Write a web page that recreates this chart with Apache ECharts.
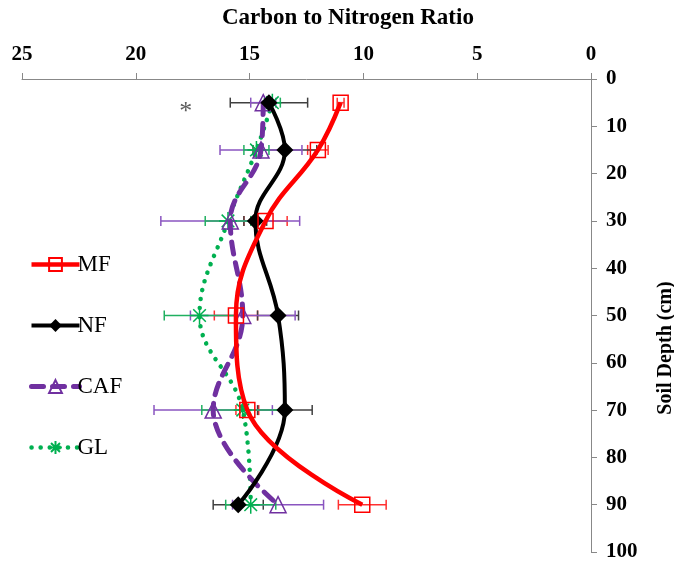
<!DOCTYPE html>
<html><head><meta charset="utf-8">
<script src="https://cdn.jsdelivr.net/npm/echarts@6/dist/echarts.min.js"></script>
<style>html,body{margin:0;padding:0;background:#fff}#c{width:674px;height:566px}</style>
</head><body><div id="c"></div>
<script>
const depths = [5, 15, 30, 50, 70, 90];
const mfValues = [11.0, 12.0, 14.3, 15.6, 15.1, 10.05];
const mfErrors = [0.15, 0.45, 0.95, 0.95, 0.5, 1.05];
const nfValues = [14.15, 13.45, 14.75, 13.75, 13.45, 15.5];
const nfErrors = [1.7, 1.4, 0.5, 0.9, 1.2, 1.1];
const cafValues = [14.4, 14.5, 15.85, 15.3, 16.6, 13.75];
const cafErrors = [0.55, 1.8, 3.05, 2.3, 2.6, 2.0];
const glValues = [14.0, 14.7, 15.95, 17.2, 15.3, 14.95];
const glErrors = [0.35, 0.55, 1.0, 1.55, 1.8, 1.1];
const seriesNames = ['MF', 'NF', 'CAF', 'GL'];
const xTicks = [0, 5, 10, 15, 20, 25];
const yTicks = [0, 10, 20, 30, 40, 50, 60, 70, 80, 90, 100];
const asteriskPoint = [17.8, 6.0];

const FONT = '"Liberation Serif", "Times New Roman", serif';
const colors = {MF: '#FF0000', NF: '#000000', CAF: '#7030A0', GL: '#00B050'};
const errColors = {MF: '#FF3030', NF: '#404040', CAF: '#8A55C0', GL: '#20B060'};

function pairs(vals) { return vals.map((v, i) => [v, depths[i]]); }
function errData(vals, errs) { return vals.map((v, i) => [v, depths[i], errs[i]]); }

function errSeries(name, vals, errs) {
  return {
    type: 'custom', name: name + ' err', z: 1, silent: true,
    data: errData(vals, errs),
    renderItem: function (params, api) {
      const x = api.value(0), y = api.value(1), e = api.value(2);
      const a = api.coord([x - e, y]), b = api.coord([x + e, y]);
      const h = 5;
      const style = {stroke: errColors[name], lineWidth: 1.5};
      return {type: 'group', children: [
        {type: 'line', shape: {x1: a[0], y1: a[1], x2: b[0], y2: b[1]}, style: style},
        {type: 'line', shape: {x1: a[0], y1: a[1] - h, x2: a[0], y2: a[1] + h}, style: style},
        {type: 'line', shape: {x1: b[0], y1: b[1] - h, x2: b[0], y2: b[1] + h}, style: style}
      ]};
    }
  };
}

const asteriskPath = 'path://M0,-10L0,10M-10,0L10,0M-7,-7L7,7M-7,7L7,-7';

const chart = echarts.init(document.getElementById('c'), null, {renderer: 'canvas'});
chart.setOption({
  animation: false,
  backgroundColor: '#fff',
  grid: {left: 22, right: 83, top: 79, bottom: 14, containLabel: false},
  graphic: [
    {type: 'text', left: 222, top: 7, style: {text: 'Carbon to Nitrogen Ratio', font: 'bold 23px ' + FONT, fill: '#000'}},
    {type: 'text', x: 666, y: 348, rotation: Math.PI / 2,
     style: {text: 'Soil Depth (cm)', font: 'bold 20px ' + FONT, fill: '#000', align: 'center', verticalAlign: 'middle'}}
  ],
  legend: {
    data: seriesNames, orient: 'vertical', left: 24, top: 248, itemGap: 38,
    itemWidth: 48, itemHeight: 16,
    lineStyle: {width: 'inherit'},
    textStyle: {fontFamily: FONT, fontSize: 23, color: '#000', padding: [0, 0, 0, -7]}
  },
  xAxis: {
    type: 'value', position: 'top', inverse: true, min: 0, max: 25, interval: 5,
    axisLine: {show: true, lineStyle: {color: '#888', width: 1}},
    axisTick: {show: true, inside: false, length: 6, lineStyle: {color: '#888'}},
    splitLine: {show: false},
    axisLabel: {fontFamily: FONT, fontWeight: 'bold', fontSize: 21, color: '#000', margin: 14,
      formatter: v => xTicks.includes(v) ? String(v) : ''}
  },
  yAxis: {
    type: 'value', position: 'right', inverse: true, min: 0, max: 100, interval: 10,
    axisLine: {show: true, lineStyle: {color: '#888', width: 1}},
    axisTick: {show: true, inside: false, length: 6, lineStyle: {color: '#888'}},
    splitLine: {show: false},
    axisLabel: {fontFamily: FONT, fontWeight: 'bold', fontSize: 21, color: '#000', margin: 15,
      formatter: v => yTicks.includes(v) ? String(v) : ''}
  },
  series: [
    errSeries('MF', mfValues, mfErrors),
    errSeries('NF', nfValues, nfErrors),
    errSeries('CAF', cafValues, cafErrors),
    errSeries('GL', glValues, glErrors),
    {
      name: 'GL', type: 'line', z: 3, data: pairs(glValues), smooth: 0.4,
      symbol: asteriskPath, symbolSize: 18,
      lineStyle: {color: colors.GL, width: 4.5, type: [0.1, 9], cap: 'round'},
      itemStyle: {color: 'rgba(0,0,0,0)', borderColor: colors.GL, borderWidth: 1.5}
    },
    {
      name: 'CAF', type: 'line', z: 4, data: pairs(cafValues), smooth: 0.4,
      symbol: 'triangle', symbolSize: 16,
      lineStyle: {color: colors.CAF, width: 5, type: [12, 9], cap: 'round'},
      itemStyle: {color: 'rgba(255,255,255,0)', borderColor: colors.CAF, borderWidth: 1.5}
    },
    {
      name: 'NF', type: 'line', z: 5, data: pairs(nfValues), smooth: 0.4,
      symbol: 'diamond', symbolSize: 17,
      lineStyle: {color: colors.NF, width: 4},
      itemStyle: {color: colors.NF}
    },
    {
      name: 'MF', type: 'line', z: 6, data: pairs(mfValues), smooth: 0.4,
      symbol: 'rect', symbolSize: 15,
      lineStyle: {color: colors.MF, width: 4.5},
      itemStyle: {color: 'rgba(255,255,255,0)', borderColor: colors.MF, borderWidth: 1.5}
    },
    {
      name: 'asterisk', type: 'scatter', z: 7, silent: true, data: [asteriskPoint],
      symbolSize: 1, itemStyle: {color: 'rgba(0,0,0,0)'},
      label: {show: true, position: 'inside', formatter: '*', fontFamily: FONT, fontSize: 26, color: '#333', offset: [0, 5]}
    }
  ]
});
</script></body></html>
